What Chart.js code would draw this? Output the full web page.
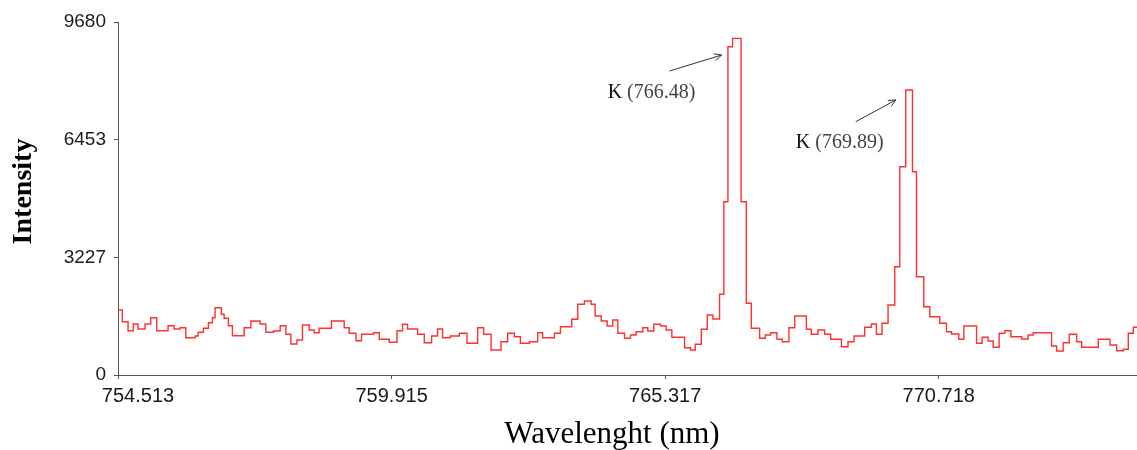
<!DOCTYPE html>
<html>
<head>
<meta charset="utf-8">
<script src="https://cdn.jsdelivr.net/npm/chart.js@4"></script>
<style>
  html, body { margin: 0; padding: 0; background: #fff; }
  canvas { display: block; }
</style>
</head>
<body>
<canvas id="spectrum" width="1137" height="450"></canvas>
<script>
// start wavelength (nm) of each plateau of the stepped trace
const wavelength = [
  754.513, 754.598, 754.711, 754.815, 754.908, 755.047, 755.159, 755.278, 755.501, 755.620,
  755.738, 755.851, 756.035, 756.094, 756.199, 756.298, 756.377, 756.430, 756.555, 756.608,
  756.693, 756.772, 757.003, 757.136, 757.319, 757.432, 757.582, 757.715, 757.827, 757.926,
  758.045, 758.155, 758.288, 758.386, 758.485,
  758.728, 758.979, 759.078, 759.211, 759.321, 759.558, 759.671, 759.869, 760.021, 760.132,
  760.230, 760.428, 760.560, 760.705, 760.823, 760.922, 761.074, 761.252, 761.404, 761.614,
  761.732, 761.879, 762.076, 762.207, 762.339, 762.458, 762.636,
  762.800, 762.898, 763.130, 763.248, 763.471, 763.590, 763.722, 763.855, 763.934, 764.053,
  764.171, 764.282, 764.381, 764.513, 764.632, 764.744, 764.875, 764.973, 765.092, 765.224,
  765.337, 765.448, 765.699, 765.817, 765.910, 766.029, 766.147, 766.258, 766.390,
  766.475, 766.555, 766.647, 766.815, 766.918, 767.017, 767.181, 767.294, 767.398, 767.523,
  767.629, 767.760, 767.873, 768.104, 768.203, 768.333, 768.466, 768.584, 768.796, 768.926,
  769.045, 769.256, 769.388, 769.487, 769.598, 769.717, 769.849, 769.948, 770.066, 770.199,
  770.278, 770.422, 770.541, 770.738, 770.871, 770.970, 771.114, 771.213, 771.464, 771.574,
  771.693, 771.792, 771.910, 772.023, 772.141, 772.353, 772.483, 772.582, 772.946, 773.045,
  773.175, 773.294, 773.440, 773.539, 773.867, 774.098, 774.230, 774.361, 774.460, 774.558,
  774.632
];

const intensity = [
  1782, 1461, 1215, 1398, 1261, 1398, 1571, 1215, 1352, 1261,
  1297, 1023, 1069, 1171, 1280, 1434, 1571, 1845, 1664, 1555,
  1352, 1078, 1297, 1481, 1398, 1171, 1206, 1352, 1116, 850,
  960, 1371, 1234, 1160, 1280,
  1481, 1297, 1143, 941, 1116, 1160, 979, 897, 1215, 1390,
  1261, 1116, 886, 1069, 1261, 1023, 1069, 1143, 869, 1297,
  1116, 686, 913, 1143, 1050, 869, 913,
  1160, 1023, 1143, 1324, 1527, 1939, 2029, 1939, 1618, 1481,
  1344, 1508, 1143, 1006, 1097, 1187, 1297, 1206, 1390, 1344,
  1234, 1034, 749, 686, 842, 1253, 1645, 1536, 2213,
  4752, 9002, 9232, 4752, 1966, 1280, 1006, 1097, 1160, 979,
  913, 1297, 1618, 1253, 1116, 1234, 1116, 979, 776, 913,
  1069, 1308, 1398, 1116, 1418, 1919, 2970, 5712, 7815, 5574,
  2695, 1873, 1599, 1418, 1187, 1124, 979, 1344, 869, 1034,
  932, 760, 1143, 1215, 1050, 987, 1097, 1160, 795, 658,
  886, 1116, 913, 760, 979, 823, 666, 705, 1143, 1308,
  1308
];

const xTicks = [754.513, 759.915, 765.317, 770.718];
const yTicks = [0, 3227, 6453, 9680];

// peak labels: text, arrow tail and head, all in data units
const peakNotes = [
  { element: 'K', line: '(766.48)', at: [765.047, 7732], from: [765.402, 8336], to: [766.430, 8774] },
  { element: 'K', line: '(769.89)', at: [768.762, 6375], from: [769.078, 6946], to: [769.869, 7541] }
];

const points = wavelength.map((w, i) => ({ x: w, y: intensity[i] }));

const peakNotesPlugin = {
  id: 'peakNotes',
  afterDatasetsDraw(chart) {
    const ctx = chart.ctx;
    const xs = chart.scales.x, ys = chart.scales.y;
    ctx.save();
    peakNotes.forEach(n => {
      const x1 = xs.getPixelForValue(n.from[0]), y1 = ys.getPixelForValue(n.from[1]);
      const x2 = xs.getPixelForValue(n.to[0]), y2 = ys.getPixelForValue(n.to[1]);
      ctx.strokeStyle = '#333';
      ctx.lineWidth = 1;
      ctx.beginPath();
      ctx.moveTo(x1, y1);
      ctx.lineTo(x2, y2);
      const a = Math.atan2(y2 - y1, x2 - x1);
      ctx.moveTo(x2 - 8 * Math.cos(a - 0.45), y2 - 8 * Math.sin(a - 0.45));
      ctx.lineTo(x2, y2);
      ctx.lineTo(x2 - 8 * Math.cos(a + 0.45), y2 - 8 * Math.sin(a + 0.45));
      ctx.stroke();

      const tx = xs.getPixelForValue(n.at[0]), ty = ys.getPixelForValue(n.at[1]);
      ctx.font = '20px "Liberation Serif", "Times New Roman", serif';
      ctx.textBaseline = 'middle';
      const w1 = ctx.measureText(n.element + ' ').width;
      const w2 = ctx.measureText(n.line).width;
      const left = tx - (w1 + w2) / 2;
      ctx.textAlign = 'left';
      ctx.fillStyle = '#111';
      ctx.fillText(n.element + ' ', left, ty);
      ctx.fillStyle = '#444';
      ctx.fillText(n.line, left + w1, ty);
    });
    ctx.restore();
  }
};

new Chart(document.getElementById('spectrum'), {
  type: 'line',
  data: {
    datasets: [{
      data: points,
      borderColor: '#ff3030',
      borderWidth: 1.4,
      stepped: true,
      pointRadius: 0,
      fill: false,
      tension: 0
    }]
  },
  options: {
    responsive: false,
    animation: false,
    devicePixelRatio: 1,
    layout: { padding: { top: 22, right: 0, left: 0, bottom: 0 } },
    plugins: { legend: { display: false }, tooltip: { enabled: false } },
    scales: {
      x: {
        type: 'linear',
        min: 754.513,
        max: 774.632,
        afterBuildTicks: s => { s.ticks = xTicks.map(v => ({ value: v })); },
        afterFit: s => { s.height = 75; },
        grid: { drawOnChartArea: false, drawTicks: true, tickLength: 4, color: '#555' },
        border: { color: '#555', width: 1 },
        ticks: {
          autoSkip: false,
          maxRotation: 0,
          padding: 5,
          color: '#1a1a1a',
          font: { family: '"Liberation Sans", Arial, sans-serif', size: 20 },
          callback: (v, i) => (i === 0 ? '\u2003\u2003' : '') + v.toFixed(3)
        },
        title: {
          display: true,
          text: 'Wavelenght (nm)\u2003',
          color: '#000',
          padding: 0,
          font: { family: '"Liberation Serif", "Times New Roman", serif', size: 31, lineHeight: 1.0 }
        }
      },
      y: {
        min: 0,
        max: 9680,
        afterBuildTicks: s => { s.ticks = yTicks.map(v => ({ value: v })); },
        afterFit: s => { s.width = 118; },
        grid: { drawOnChartArea: false, drawTicks: true, tickLength: 4, color: '#555' },
        border: { color: '#555', width: 1 },
        ticks: {
          padding: 8,
          color: '#1a1a1a',
          font: { family: '"Liberation Sans", Arial, sans-serif', size: 19 },
          callback: v => String(v)
        },
        title: {
          display: true,
          text: '\u2002Intensity',
          color: '#000',
          padding: { top: 7, bottom: 0 },
          font: { family: '"Liberation Serif", "Times New Roman", serif', size: 28, weight: 'bold' }
        }
      }
    }
  },
  plugins: [peakNotesPlugin]
});
</script>
</body>
</html>
